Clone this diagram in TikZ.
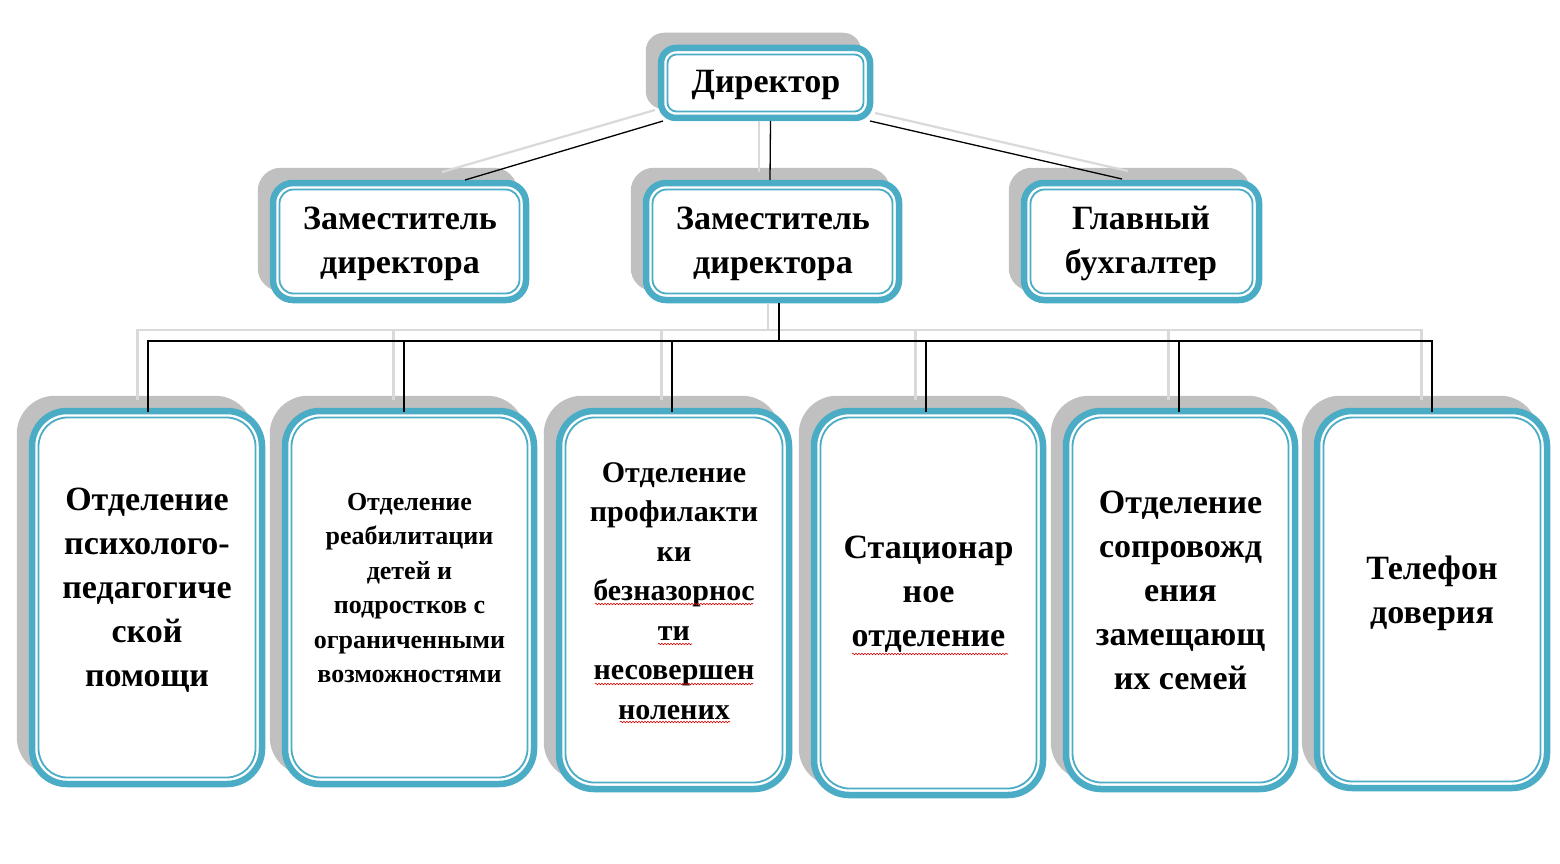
\documentclass[tikz,border=0pt]{standalone}
\usepackage{fontspec}
\setmainfont{Liberation Serif}
\usetikzlibrary{calc,shadows,decorations.pathmorphing}
\definecolor{teal1}{HTML}{4BACC6}
\definecolor{shgray}{HTML}{C0C0C0}
\definecolor{lngray}{HTML}{D9D9D9}
\tikzset{
  orgbox/.style={rectangle, draw=teal1, line width=6.5pt, fill=white, rounded corners=#1,
    inner sep=0pt, outer sep=0pt,
    general shadow={fill=shgray, draw=shgray, line width=6.5pt, shadow xshift=-12pt, shadow yshift=12pt}},
  innerline/.style={draw=teal1, line width=1.8pt, rounded corners=#1},
  bigtxt/.style={font=\bfseries\fontsize{34}{44}\selectfont, align=center, inner sep=0pt},
  midtxt/.style={font=\bfseries\fontsize{30}{39.5}\selectfont, align=center, inner sep=0pt},
  smalltxt/.style={font=\bfseries\fontsize{26}{34.5}\selectfont, align=center, inner sep=0pt},
  blk/.style={draw=black, line width=1.3pt},
  gry/.style={draw=lngray, line width=2.2pt},
  wavy/.style={draw=red!85!black, line width=0.6pt, decorate, decoration={snake, amplitude=0.8pt, segment length=3pt}}
}
\begin{document}
\begin{tikzpicture}[x=1pt,y=-1pt]
\useasboundingbox[fill=white] (0,0) rectangle (1560,864);

% ---- boxes ----
\node[orgbox=15, minimum width=209, minimum height=70] (dir) at (765.5,83) {};
\node[orgbox=20, minimum width=253, minimum height=117] (dep1) at (399.5,241.5) {};
\node[orgbox=20, minimum width=253, minimum height=117] (dep2) at (772.5,241.5) {};
\node[orgbox=20, minimum width=235, minimum height=117] (glav) at (1141.5,241.5) {};

\node[orgbox=35, minimum width=230, minimum height=373] (b1) at (147,597.5) {};
\node[orgbox=35, minimum width=249, minimum height=373] (b2) at (409.5,597.5) {};
\node[orgbox=35, minimum width=230, minimum height=378] (b3) at (674,600) {};
\node[orgbox=35, minimum width=229, minimum height=384] (b4) at (928.5,603) {};
\node[orgbox=35, minimum width=229, minimum height=378] (b5) at (1180.5,600) {};
\node[orgbox=35, minimum width=230, minimum height=377] (b6) at (1432,599.5) {};

% ---- inner thin lines ----
\foreach \n/\r in {dir/9,dep1/14,dep2/14,glav/14,b1/29,b2/29,b3/29,b4/29,b5/29,b6/29}{
  \draw[innerline=\r] ($(\n.north west)+(6.5,6.5)$) rectangle ($(\n.south east)+(-6.5,-6.5)$);
}

% ---- texts ----
\node[bigtxt] (tdir) at (766,85) {Директор};
\node[bigtxt] (tdep1) at (400,244) {Заместитель\\директора};
\node[bigtxt] (tdep2) at (773,244) {Заместитель\\директора};
\node[bigtxt] (tglav) at (1141,243) {Главный\\бухгалтер};

\node[bigtxt] (t1) at (147,590.5) {Отделение\\психолого-\\педагогиче\\ской\\помощи};
\node[smalltxt] (t2) at (409.5,588) {Отделение\\реабилитации\\детей и\\подростков с\\ограниченными\\возможностями};
\node[midtxt] (t3) at (674,591) {Отделение\\профилакти\\ки\\безназорнос\\ти\\несовершен\\нолених};
\node[bigtxt] (t4) at (928.5,594.5) {Стационар\\ное\\отделение};
\node[bigtxt] (t5) at (1180.5,590.5) {Отделение\\сопровожд\\ения\\замещающ\\их семей};
\node[bigtxt] (t6) at (1432,593) {Телефон\\доверия};

% ---- wavy underlines ----
\draw[wavy] (595,604) -- (753,604);
\draw[wavy] (658,644) -- (692,644);
\draw[wavy] (595,684) -- (753,684);
\draw[wavy] (620,722) -- (730,722);
\draw[wavy] (852,654) -- (1008,654);

% ---- top connectors: gray shadows ----
\draw[gry] ($(dir.south west)+(-6,-8)$) -- ($(dep1.north)+(42.5,-11)$);
\draw[gry] ($(dir.south)+(-6.5,3)$) -- ($(dep2.north)+(-13.5,-11)$);
\draw[gry] ($(dir.south east)+(5,-5)$) -- ($(glav.north)+(-13.5,-12)$);
% ---- top connectors: black ----
\draw[blk] ($(dir.south west)+(2,3)$) -- ($(dep1.north)+(65.5,-3)$);
\draw[blk] ($(dir.south)+(5,3)$) -- ($(dep2.north)+(-2.5,-3)$);
\draw[blk] ($(dir.south east)+(0,3)$) -- ($(glav.north)+(-19.5,-4)$);

% ---- bus ----
\coordinate (d2s) at ($(dep2.south)+(6.5,3)$);
\coordinate (bus) at ($(d2s)+(0,38)$);
\coordinate (g2s) at ($(dep2.south)+(-4.5,3)$);
\coordinate (gbus) at ($(bus)+(-11,-11)$);

\draw[gry] (g2s) -- (gbus);
\foreach \n/\dx in {b1/1,b2/-5.5,b3/-2,b4/-2.5,b5/-1.5,b6/0}{
  \draw[gry] ($(\n.north)+(\dx-10.5,-11)$) |- (gbus);
}
\draw[blk] (d2s) -- (bus);
\foreach \n/\dx in {b1/1,b2/-5.5,b3/-2,b4/-2.5,b5/-1.5,b6/0}{
  \draw[blk] ($(\n.north)+(\dx,1)$) |- (bus);
}
\end{tikzpicture}
\end{document}
